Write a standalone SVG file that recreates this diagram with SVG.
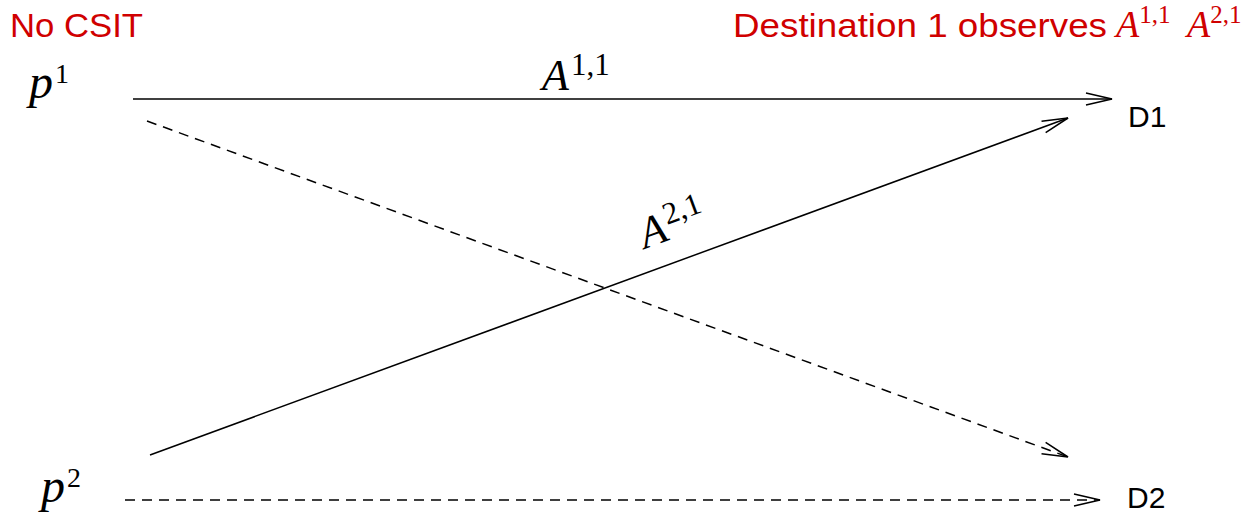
<svg xmlns="http://www.w3.org/2000/svg" width="1258" height="512" viewBox="0 0 1258 512">
<style>
.sans{font-family:"Liberation Sans",Arial,sans-serif}
.red{fill:#d00000}
.math{font-family:"Liberation Serif","Times New Roman",serif}
.it{font-style:italic}
.ln{stroke:#000;stroke-width:1.5;fill:none}
.dash{stroke-dasharray:10 7}
</style>
<defs>
<marker id="ah" markerUnits="userSpaceOnUse" markerWidth="40" markerHeight="20" viewBox="-30 -10 40 20" refX="0" refY="0" orient="auto">
<path d="M-26,-6 L0,0 L-26,6" fill="none" stroke="#000" stroke-width="1.5"/>
</marker>
</defs>
<g id="title-left"><text class="sans red" x="10" y="37" font-size="34" textLength="133" lengthAdjust="spacingAndGlyphs">No CSIT</text></g>
<g id="title-right">
<text class="sans red" x="733" y="37" font-size="33" textLength="374" lengthAdjust="spacingAndGlyphs">Destination 1 observes</text>
<text class="math red" x="1116" y="37" font-size="38"><tspan class="it">A</tspan><tspan dy="-14" font-size="25">1,1</tspan></text>
<text class="math red" x="1187" y="37" font-size="38"><tspan class="it">A</tspan><tspan dy="-14" font-size="25">2,1</tspan></text>
</g>
<g id="p1"><text class="math" x="29" y="98" font-size="48"><tspan class="it">p</tspan><tspan dx="2" dy="-15" font-size="28">1</tspan></text></g>
<g id="p2"><text class="math" x="41" y="502" font-size="48"><tspan class="it">p</tspan><tspan dx="2" dy="-15" font-size="28">2</tspan></text></g>
<g id="D1"><text class="sans" x="1128" y="127" font-size="30">D1</text></g>
<g id="D2"><text class="sans" x="1127" y="508" font-size="30">D2</text></g>
<g id="connectors">
<line class="ln" x1="133" y1="99" x2="1112" y2="99" marker-end="url(#ah)"/>
<line class="ln dash" x1="147" y1="121" x2="1068" y2="457" marker-end="url(#ah)"/>
<line class="ln" x1="150" y1="455" x2="1068" y2="118" marker-end="url(#ah)"/>
<line class="ln dash" x1="125" y1="500" x2="1100" y2="500" marker-end="url(#ah)"/>
<text class="math" x="542" y="90" font-size="44"><tspan class="it">A</tspan><tspan dx="2" dy="-15" font-size="31">1,1</tspan></text>
<text class="math" x="0" y="0" font-size="44" transform="translate(645,249) rotate(-20.2)"><tspan class="it">A</tspan><tspan dx="2" dy="-15" font-size="31">2,1</tspan></text>
</g>
</svg>
